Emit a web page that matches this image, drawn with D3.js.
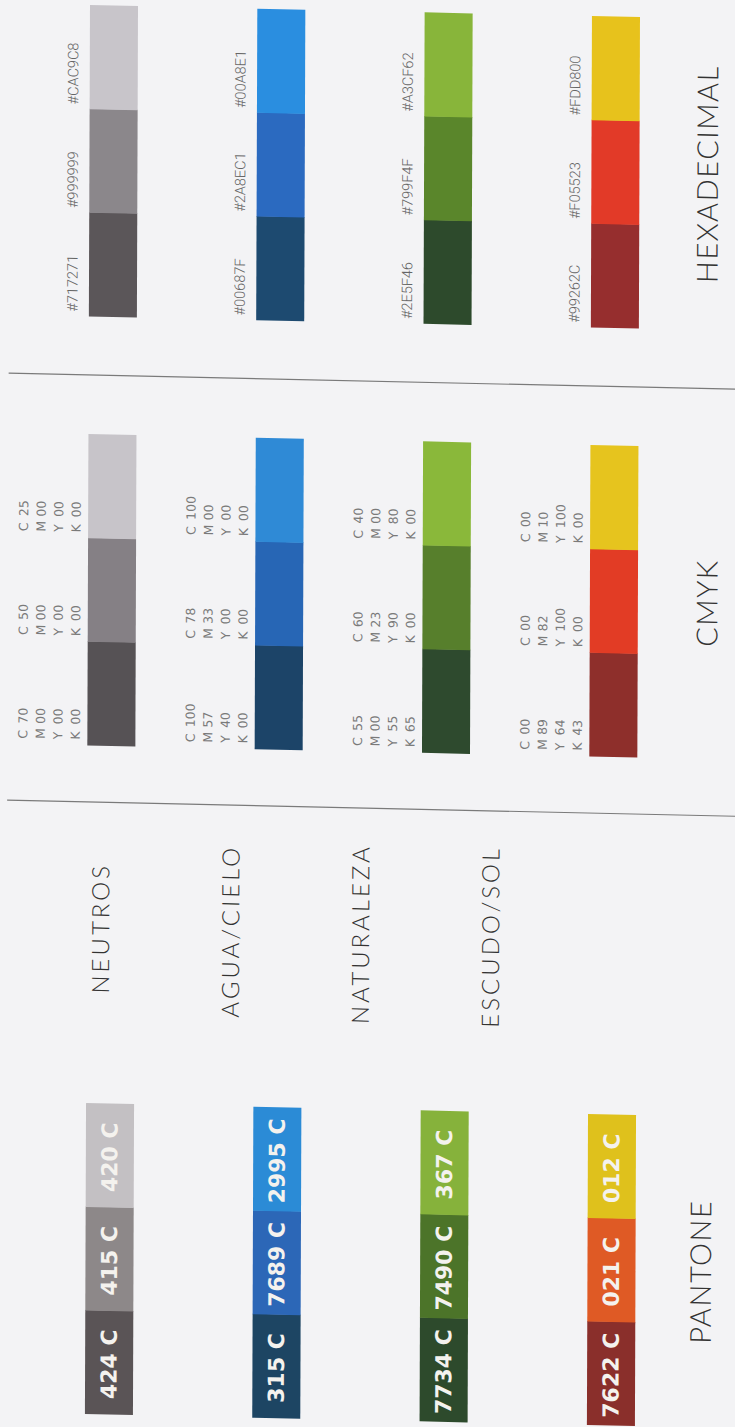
<!DOCTYPE html>
<html>
<head>
<meta charset="utf-8">
<script src="https://cdn.jsdelivr.net/npm/d3@7/dist/d3.min.js"></script>
<style>
  html, body { margin: 0; padding: 0; background: #f3f3f5; }
  svg { display: block; }
</style>
</head>
<body>
<script>
// ---------- DATA ----------
const groups = ["NEUTROS", "AGUA/CIELO", "NATURALEZA", "ESCUDO/SOL"];
// segment order: bottom (dark) -> top (light)
const hexCodes = [
  ["#717271", "#999999", "#CAC9C8"],
  ["#00687F", "#2A8EC1", "#00A8E1"],
  ["#2E5F46", "#799F4F", "#A3CF62"],
  ["#99262C", "#F05523", "#FDD800"]
];
const cmykValues = [
  [[70, 0, 0, 0], [50, 0, 0, 0], [25, 0, 0, 0]],
  [[100, 57, 40, 0], [78, 33, 0, 0], [100, 0, 0, 0]],
  [[55, 0, 55, 65], [60, 23, 90, 0], [40, 0, 80, 0]],
  [[0, 89, 64, 43], [0, 82, 100, 0], [0, 10, 100, 0]]
];
const pantoneCodes = [
  ["424 C", "415 C", "420 C"],
  ["315 C", "7689 C", "2995 C"],
  ["7734 C", "7490 C", "367 C"],
  ["7622 C", "021 C", "012 C"]
];
const cmykLetters = ["C", "M", "Y", "K"];
const sectionTitles = ["HEXADECIMAL", "CMYK", "PANTONE"];
// colours as they appear printed in the picture
const hexSwatch = [
  ["#5b5659", "#8b878b", "#c8c5ca"],
  ["#1d4a70", "#2b6ac0", "#2a8ee0"],
  ["#2d4a2c", "#5a862b", "#88b53a"],
  ["#962e2e", "#e23a28", "#e7c21c"]
];
const cmykSwatch = [
  ["#565255", "#858085", "#c7c4c9"],
  ["#1c4468", "#2766b5", "#2f8ad6"],
  ["#2e4a2e", "#577f2c", "#8ab83a"],
  ["#8e2f2b", "#e23c25", "#e6c41e"]
];
const pantoneSwatch = [
  ["#5a5456", "#8d8889", "#c3c0c3"],
  ["#1d4563", "#2c67b7", "#2b8bd6"],
  ["#2d4a2c", "#4c7429", "#86b23b"],
  ["#8a2f2b", "#df5a25", "#dfc11c"]
];

// ---------- LAYOUT ----------
const W = 735, H = 1427;
const svg = d3.select("body").append("svg").attr("width", W).attr("height", H);
svg.append("rect").attr("width", W).attr("height", H).attr("fill", "#f3f3f5");
// slight skew of the scanned sheet
const g = svg.append("g").attr("transform", "matrix(1,0.022,-0.0036,1,0,0)");

const x = d3.scaleBand().domain(groups).range([90, 640]).paddingInner(0.713);
const nameX = d3.scalePoint().domain(groups).range([103, 493]);

const sections = [
  { key: "hex", top: 3, bottom: 314, swatch: hexSwatch, titleX: 707 },
  { key: "cmyk", top: 432, bottom: 743, swatch: cmykSwatch, titleX: 708 },
  { key: "pantone", top: 1101, bottom: 1411.5, swatch: pantoneSwatch, titleX: 704 }
];
const segIdx = [0, 1, 2];

const pad2 = v => (v < 10 ? "0" + v : String(v));

sections.forEach((sec, si) => {
  const y = d3.scaleBand().domain(segIdx).range([sec.bottom, sec.top]);
  groups.forEach((grp, gi) => {
    const gx = x(grp);
    const bw = x.bandwidth();
    segIdx.forEach(s => {
      g.append("rect")
        .attr("x", gx).attr("y", y(s))
        .attr("width", bw).attr("height", y.bandwidth() + 0.5)
        .attr("fill", sec.swatch[gi][s]);
      const segBottom = y(s) + y.bandwidth();
      if (sec.key === "hex") {
        g.append("text")
          .attr("transform", `translate(${gx - 16},${segBottom - 4}) rotate(-90)`)
          .attr("dominant-baseline", "central")
          .attr("font-family", "Roboto, 'Liberation Sans', sans-serif")
          .attr("font-weight", 300)
          .attr("font-size", 14.5)
          .attr("fill", "#666")
          .text(hexCodes[gi][s]);
      } else if (sec.key === "cmyk") {
        cmykLetters.forEach((L, li) => {
          const lx = gx - 64.5 + li * 17.5;
          g.append("text")
            .attr("transform", `translate(${lx},${segBottom - 5}) rotate(-90)`)
            .attr("dominant-baseline", "central")
            .attr("font-family", "'DejaVu Sans', sans-serif")
            .attr("font-size", 12.5)
            .attr("fill", "#7a7a7a")
            .text(L);
          g.append("text")
            .attr("transform", `translate(${lx},${segBottom - 20}) rotate(-90)`)
            .attr("dominant-baseline", "central")
            .attr("font-family", "'DejaVu Sans', sans-serif")
            .attr("font-size", 12.5)
            .attr("fill", "#7a7a7a")
            .text(pad2(cmykValues[gi][s][li]));
        });
      } else {
        g.append("text")
          .attr("transform", `translate(${gx + bw / 2},${y(s) + y.bandwidth() / 2 + 2}) rotate(-90)`)
          .attr("dominant-baseline", "central")
          .attr("text-anchor", "middle")
          .attr("font-family", "'DejaVu Sans', sans-serif")
          .attr("font-weight", 700)
          .attr("font-size", 22)
          .attr("fill", "#f4f2ee")
          .text(pantoneCodes[gi][s]);
      }
    });
  });
  // section title
  g.append("text")
    .attr("transform", `translate(${sec.titleX},${(sec.top + sec.bottom) / 2}) rotate(-90)`)
    .attr("dominant-baseline", "central")
    .attr("text-anchor", "middle")
    .attr("font-family", "Lato, 'Open Sans', sans-serif")
    .attr("font-weight", 300)
    .attr("font-size", 29)
    .attr("letter-spacing", 1.5)
    .attr("fill", "#333")
    .text(sectionTitles[si]);
});

// group names
groups.forEach(grp => {
  g.append("text")
    .attr("transform", `translate(${nameX(grp)},926) rotate(-90)`)
    .attr("dominant-baseline", "central")
    .attr("text-anchor", "middle")
    .attr("font-family", "Lato, 'Open Sans', sans-serif")
    .attr("font-weight", 300)
    .attr("font-size", 24)
    .attr("letter-spacing", 3)
    .attr("fill", "#333")
    .text(grp);
});

// separator lines
[373, 800].forEach(ly => {
  g.append("line")
    .attr("x1", 10).attr("x2", 740)
    .attr("y1", ly).attr("y2", ly)
    .attr("stroke", "#7a7a7a").attr("stroke-width", 1.2);
});
</script>
</body>
</html>
